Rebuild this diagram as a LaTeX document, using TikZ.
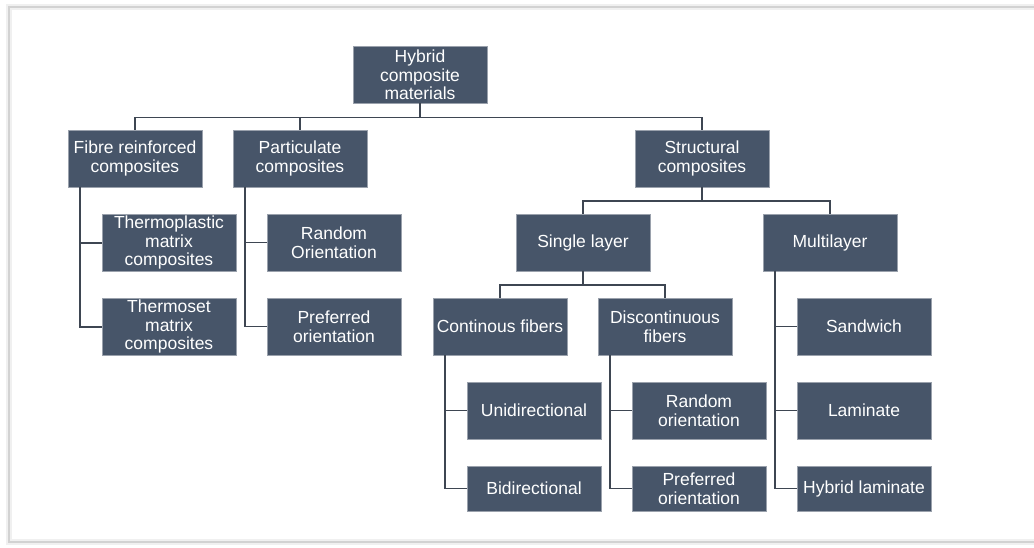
\documentclass[tikz,border=0pt]{standalone}
\usepackage{fontspec}
\setmainfont{Liberation Sans}
\usetikzlibrary{positioning}
\definecolor{slate}{RGB}{71,85,105}
\definecolor{linkgray}{RGB}{62,70,82}

\begin{document}
\begin{tikzpicture}[x=1pt, y=1pt,
  box/.style={draw=slate!55!white, line width=0.6pt, fill=slate, text=white, minimum width=134pt, minimum height=57pt, inner sep=2pt, outer sep=0pt, align=center, font=\fontsize{17.5}{18.5}\selectfont},
  lowbox/.style={box, minimum height=45pt},
  link/.style={draw=linkgray, line width=1.8pt}]
  \useasboundingbox (0,0) rectangle (1034,-548);
  % frame
  \draw[gray!12, line width=6pt] (1034,-7) -- (9,-7) -- (9,-542) -- (1034,-542);
  \draw[gray!35, line width=1.2pt] (1034,-7) -- (9,-7) -- (9,-542) -- (1034,-542);

  % top level
  \node[box] (root) at (420,-75) {Hybrid\\composite\\materials};
  \node[box] (fibre) at (135,-158.5) {Fibre reinforced\\composites};
  \node[box, right=31pt of fibre] (partic) {Particulate\\composites};
  \node[box, right=268pt of partic] (struct) {Structural\\composites};
  \draw[link] (root.south) -- ++(0,-14) -| (fibre.north);
  \draw[link] (root.south) -- ++(0,-14) -| (partic.north);
  \draw[link] (root.south) -- ++(0,-14) -| (struct.north);

  % fibre reinforced
  \node[box, below right=27pt and 34pt of fibre.south west] (thermoplastic) {Thermoplastic\\matrix\\composites};
  \node[box, below=27pt of thermoplastic] (thermoset) {Thermoset\\matrix\\composites};
  \draw[link] ([xshift=12pt]fibre.south west) |- (thermoplastic.west);
  \draw[link] ([xshift=12pt]fibre.south west) |- (thermoset.west);

  % particulate
  \node[box, below right=27pt and 34pt of partic.south west] (randomp) {Random\\Orientation};
  \node[box, below=27pt of randomp] (preferp) {Preferred\\orientation};
  \draw[link] ([xshift=12pt]partic.south west) |- (randomp.west);
  \draw[link] ([xshift=12pt]partic.south west) |- (preferp.west);

  % structural
  \node[box, below=27pt of struct, xshift=-119pt] (single) {Single layer};
  \node[box, right=113pt of single] (multi) {Multilayer};
  \draw[link] (struct.south) -- ++(0,-14) -| (single.north);
  \draw[link] (struct.south) -- ++(0,-14) -| (multi.north);

  \node[box, below=27pt of single, xshift=-83pt] (cont) {Continous fibers};
  \node[box, right=31pt of cont] (discont) {Discontinuous\\fibers};
  \draw[link] (single.south) -- ++(0,-14) -| (cont.north);
  \draw[link] (single.south) -- ++(0,-14) -| (discont.north);

  \node[box, below right=27pt and 34pt of cont.south west] (unidir) {Unidirectional};
  \node[lowbox, below=27pt of unidir] (bidir) {Bidirectional};
  \draw[link] ([xshift=12pt]cont.south west) |- (unidir.west);
  \draw[link] ([xshift=12pt]cont.south west) |- (bidir.west);

  \node[box, below right=27pt and 34pt of discont.south west] (randomd) {Random\\orientation};
  \node[lowbox, below=27pt of randomd] (preferd) {Preferred\\orientation};
  \draw[link] ([xshift=12pt]discont.south west) |- (randomd.west);
  \draw[link] ([xshift=12pt]discont.south west) |- (preferd.west);

  \node[box, below right=27pt and 34pt of multi.south west] (sandwich) {Sandwich};
  \node[box, below=27pt of sandwich] (laminate) {Laminate};
  \node[lowbox, below=27pt of laminate] (hybridlam) {Hybrid laminate};
  \draw[link] ([xshift=12pt]multi.south west) |- (sandwich.west);
  \draw[link] ([xshift=12pt]multi.south west) |- (laminate.west);
  \draw[link] ([xshift=12pt]multi.south west) |- (hybridlam.west);
\end{tikzpicture}
\end{document}
